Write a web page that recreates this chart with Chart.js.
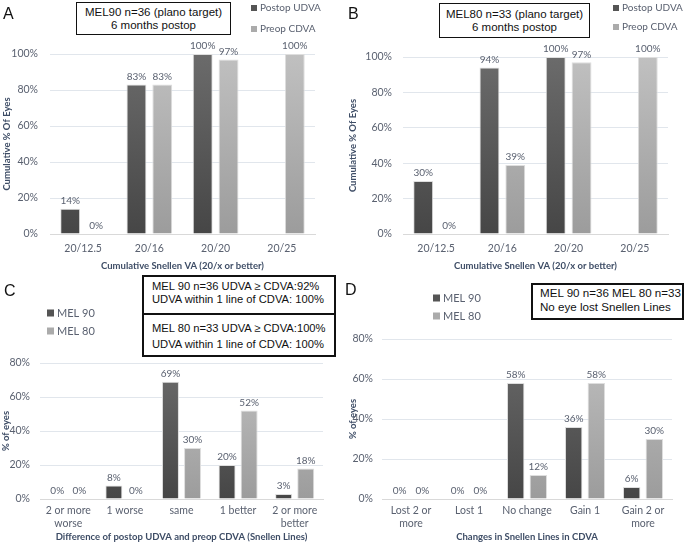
<!doctype html>
<html lang="en">
<head>
<meta charset="utf-8">
<title>MEL90 / MEL80 Snellen outcomes</title>
<style>
  * { margin: 0; padding: 0; box-sizing: border-box; }
  body { width: 685px; height: 545px; background: #fff; position: relative; overflow: hidden; font-family: "Liberation Sans", Arial, sans-serif; }
  canvas { position: absolute; }
  .letter { position: absolute; font-size: 16px; color: #111; line-height: 16px; }
  .box { position: absolute; border: 1px solid #111; background: #fff; color: #111; white-space: nowrap; }
  .box.center { text-align: center; }
  .box.thick { border-width: 2px; }
</style>
</head>
<body>
  <canvas id="chartA" width="340" height="272" style="left:0;top:0"></canvas>
  <canvas id="chartB" width="345" height="272" style="left:340px;top:0"></canvas>
  <canvas id="chartC" width="340" height="273" style="left:0;top:272px"></canvas>
  <canvas id="chartD" width="345" height="273" style="left:340px;top:272px"></canvas>

  <div class="letter" style="left:3px;top:6px">A</div>
  <div class="letter" style="left:348px;top:6px">B</div>
  <div class="letter" style="left:4px;top:283px">C</div>
  <div class="letter" style="left:345px;top:282px">D</div>

  <div class="box center" style="left:76px;top:2px;width:155px;height:33px;padding-top:3px;font-size:11.5px;line-height:13px">MEL90 n=36 (plano target)<br>6 months postop</div>
  <div class="box center" style="left:439px;top:3px;width:151px;height:35px;padding-top:4px;font-size:11.5px;line-height:13px">MEL80 n=33 (plano target)<br>6 months postop</div>
  <div class="box thick" style="left:142px;top:275px;width:194px;height:82px;font-size:11.2px">
    <div style="height:38px;border-bottom:2px solid #111;padding:3px 0 0 8px;line-height:12.5px">MEL 90 n=36 UDVA &ge; CDVA:92%<br>UDVA within 1 line of CDVA: 100%</div>
    <div style="padding:5px 0 0 8px;line-height:16px">MEL 80 n=33 UDVA &ge; CDVA:100%<br>UDVA within 1 line of CDVA: 100%</div>
  </div>
  <div class="box thick" style="left:531px;top:283px;width:153px;height:37px;padding:1px 0 0 7px;font-size:11.6px;line-height:14px">MEL 90 n=36 MEL 80 n=33<br>No eye lost Snellen Lines</div>

<script src="https://cdn.jsdelivr.net/npm/chart.js"></script>
<script>
// ---- data ----
const snellenCats = ['20/12.5', '20/16', '20/20', '20/25'];
const udvaA = [14, 83, 100, null];
const cdvaA = [0, 83, 97, 100];
const udvaB = [30, 94, 100, null];
const cdvaB = [0, 39, 97, 100];

const diffCats = [['2 or more', 'worse'], '1 worse', 'same', '1 better', ['2 or more', 'better']];
const mel90C = [0, 8, 69, 20, 3];
const mel80C = [0, 0, 30, 52, 18];

const cdvaCats = [['Lost 2 or', 'more'], 'Lost 1', 'No change', 'Gain 1', ['Gain 2 or', 'more']];
const mel90D = [0, 0, 58, 36, 6];
const mel80D = [0, 0, 12, 58, 30];

// ---- style ----
const FONT = 'Lato, "Open Sans", sans-serif';
const TXT = '#5a6170';
const TITLE = '#3e4d66';
const DARK = ['#6b6b6b', '#464646', '#555555'];
const LIGHT = ['#c0c0c0', '#9c9c9c', '#ababab'];

function vgrad(c) {
  return (ctx) => {
    const a = ctx.chart.chartArea;
    if (!a) return c[2];
    const g = ctx.chart.ctx.createLinearGradient(0, a.top, 0, a.bottom);
    g.addColorStop(0, c[0]);
    g.addColorStop(1, c[1]);
    return g;
  };
}

function bars(label, data, col) {
  return {
    label, data,
    backgroundColor: vgrad(col),
    borderColor: '#dedede',
    borderWidth: 1,
    legendColor: col[2],
    categoryPercentage: 0.78,
    barPercentage: 0.77
  };
}

// % value above every bar
const valueLabels = {
  id: 'valueLabels',
  afterDatasetsDraw(chart) {
    const {ctx} = chart;
    ctx.save();
    ctx.font = '10px ' + FONT;
    ctx.fillStyle = TXT;
    ctx.textAlign = 'center';
    ctx.textBaseline = 'bottom';
    chart.data.datasets.forEach((ds, i) => {
      chart.getDatasetMeta(i).data.forEach((bar, j) => {
        const v = ds.data[j];
        if (v == null) return;
        ctx.fillText(v + '%', bar.x, bar.y - 3);
      });
    });
    ctx.restore();
  }
};

// small stacked legend placed where the figure has it
const cornerLegend = {
  id: 'cornerLegend',
  afterDraw(chart, args, o) {
    const {ctx} = chart;
    ctx.save();
    ctx.font = o.size + 'px ' + FONT;
    ctx.textBaseline = 'middle';
    chart.data.datasets.forEach((ds, i) => {
      const y = o.y + i * o.gap;
      ctx.fillStyle = ds.legendColor;
      ctx.fillRect(o.x, y - o.box / 2, o.box, o.box);
      ctx.fillStyle = TXT;
      ctx.fillText(ds.label, o.x + o.box + 3, y);
    });
    ctx.restore();
  }
};

function makeConfig(labels, datasets, p) {
  return {
    type: 'bar',
    data: {labels, datasets},
    options: {
      responsive: false,
      animation: false,
      layout: {padding: {top: p.top, right: p.right, left: 0, bottom: 0}},
      scales: {
        x: {
          grid: {display: false, drawTicks: false},
          border: {color: '#d9d9d9'},
          ticks: {color: TXT, font: {family: FONT, size: 10.5, lineHeight: 1.25}, padding: p.xPad, maxRotation: 0, autoSkip: false},
          title: {display: true, text: p.xTitle, color: TITLE, font: {family: FONT, size: 9.5, weight: 'bold', lineHeight: 1.2}, padding: {top: 0, bottom: p.xTitlePad}},
          afterFit: (s) => { s.height = p.xh; }
        },
        y: {
          min: 0, max: p.max,
          grid: {color: '#e1e6ec', drawTicks: false},
          border: {display: false},
          ticks: {stepSize: 20, color: TXT, font: {family: FONT, size: 10.5}, padding: p.yPad, callback: (v) => v + '%'},
          title: {display: true, text: p.yTitle, color: TITLE, font: {family: FONT, size: 9.5, weight: 'bold', lineHeight: 1.2}, padding: {top: p.yTitlePad, bottom: 0}},
          afterFit: (s) => { s.width = p.yw; }
        }
      },
      plugins: {
        legend: {display: false},
        tooltip: {enabled: false},
        cornerLegend: p.legend
      }
    },
    plugins: [valueLabels, cornerLegend]
  };
}

new Chart(document.getElementById('chartA'), makeConfig(snellenCats,
  [bars('Postop UDVA', udvaA, DARK), bars('Preop CDVA', cdvaA, LIGHT)],
  {top: 54, right: 25, yw: 50, xh: 38, max: 100, xPad: 8, yPad: 12, yTitlePad: 1, xTitlePad: 0,
   xTitle: 'Cumulative Snellen VA (20/x or better)', yTitle: 'Cumulative % Of Eyes',
   legend: {x: 251, y: 8, gap: 21, box: 6, size: 10}}));

new Chart(document.getElementById('chartB'), makeConfig(snellenCats,
  [bars('Postop UDVA', udvaB, DARK), bars('Preop CDVA', cdvaB, LIGHT)],
  {top: 57, right: 17, yw: 63, xh: 38, max: 100, xPad: 8, yPad: 11, yTitlePad: 7, xTitlePad: 0,
   xTitle: 'Cumulative Snellen VA (20/x or better)', yTitle: 'Cumulative % Of Eyes',
   legend: {x: 273, y: 8, gap: 19, box: 6, size: 10}}));

new Chart(document.getElementById('chartC'), makeConfig(diffCats,
  [bars('MEL 90', mel90C, DARK), bars('MEL 80', mel80C, LIGHT)],
  {top: 91, right: 17, yw: 40, xh: 46, max: 80, xPad: 5, yPad: 10, yTitlePad: 0, xTitlePad: 2,
   xTitle: 'Difference of postop UDVA and preop CDVA (Snellen Lines)', yTitle: '% of eyes',
   legend: {x: 47, y: 41, gap: 18, box: 7, size: 11}}));

new Chart(document.getElementById('chartD'), makeConfig(cdvaCats,
  [bars('MEL 90', mel90D, DARK), bars('MEL 80', mel80D, LIGHT)],
  {top: 67, right: 13, yw: 42, xh: 46, max: 80, xPad: 5, yPad: 9, yTitlePad: 7, xTitlePad: 2,
   xTitle: 'Changes in Snellen Lines in CDVA', yTitle: '% of eyes',
   legend: {x: 93, y: 26, gap: 18, box: 7, size: 11}}));
</script>
</body>
</html>
